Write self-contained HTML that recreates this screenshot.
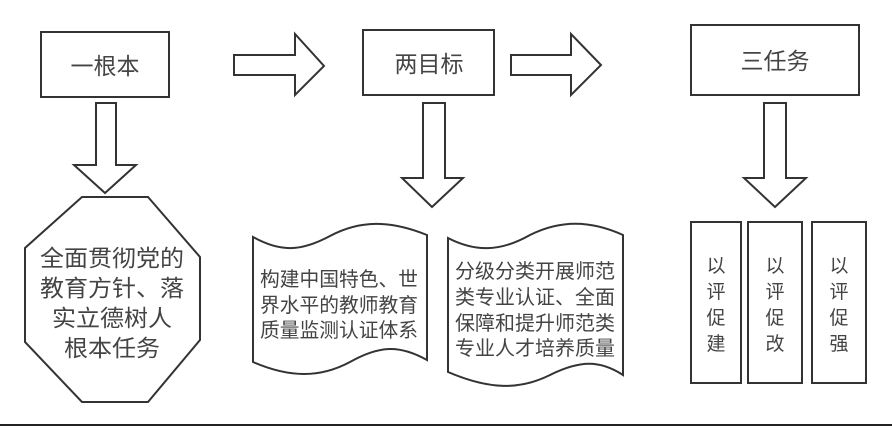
<!DOCTYPE html>
<html><head><meta charset="utf-8"><style>
body{margin:0;background:#fff;}
svg text{font-family:"Liberation Sans","Noto Sans CJK SC",sans-serif;fill:#444;}
</style></head><body>
<svg width="892" height="427" viewBox="0 0 892 427" xmlns="http://www.w3.org/2000/svg">
<g fill="#fff" stroke="#333" stroke-width="2">
<rect x="41" y="32" width="128" height="65"/>
<rect x="363" y="30" width="131" height="65"/>
<rect x="691" y="25" width="168" height="70"/>
<polygon points="234,55 295,55 295,34 324,66 295,95 295,75 234,75"/>
<polygon points="511,55 571,55 571,34 601,65 571,95 571,75 511,75"/>
<polygon points="96,103 116,103 116,165 136,165 105,193 74,165 96,165"/>
<polygon points="423,103 445,103 445,178 463,178 432,207 402,178 423,178"/>
<polygon points="764,103 786,103 786,178 806,178 775,207 744,178 764,178"/>
<polygon points="82,197 148,197 200,257 200,340 148,402 82,402 25,342 25,248"/>
<path d="M253,237 C280,252 300,252 330,236 C360,220 390,220 427,235 L427,360 C400,345 380,345 350,362 C320,378 290,378 253,362 Z"/>
<path d="M448,238 C475,252 500,252 530,235 C560,220 590,220 623,235 L623,375 C600,360 580,360 550,375 C520,390 490,390 448,372 Z"/>
<rect x="691" y="222" width="50" height="161"/>
<rect x="748" y="222" width="54" height="161"/>
<rect x="812" y="222" width="54" height="161"/>
</g>
<line x1="0" y1="425" x2="892" y2="425" stroke="#222" stroke-width="2"/>
<g font-size="23" text-anchor="middle">
<text x="105" y="74">一根本</text>
<text x="429" y="72">两目标</text>
<text x="775" y="69">三任务</text>
</g>
<g font-size="23">
<text x="40" y="266" textLength="144" lengthAdjust="spacingAndGlyphs">全面贯彻党的</text>
<text x="40" y="296" textLength="144" lengthAdjust="spacingAndGlyphs">教育方针、落</text>
<text x="52" y="326" textLength="120" lengthAdjust="spacingAndGlyphs">实立德树人</text>
<text x="64" y="356" textLength="96" lengthAdjust="spacingAndGlyphs">根本任务</text>
</g>
<g font-size="20">
<text x="260" y="286" textLength="158" lengthAdjust="spacingAndGlyphs">构建中国特色、世</text>
<text x="260" y="312" textLength="158" lengthAdjust="spacingAndGlyphs">界水平的教师教育</text>
<text x="260" y="337" textLength="158" lengthAdjust="spacingAndGlyphs">质量监测认证体系</text>
<text x="455" y="278" textLength="160" lengthAdjust="spacingAndGlyphs">分级分类开展师范</text>
<text x="455" y="304" textLength="160" lengthAdjust="spacingAndGlyphs">类专业认证、全面</text>
<text x="455" y="330" textLength="160" lengthAdjust="spacingAndGlyphs">保障和提升师范类</text>
<text x="455" y="355" textLength="160" lengthAdjust="spacingAndGlyphs">专业人才培养质量</text>
</g>
<g font-size="19" text-anchor="middle">
<text x="716" y="272">以</text><text x="716" y="298">评</text><text x="716" y="324">促</text><text x="716" y="350">建</text>
<text x="775" y="272">以</text><text x="775" y="298">评</text><text x="775" y="324">促</text><text x="775" y="350">改</text>
<text x="839" y="272">以</text><text x="839" y="298">评</text><text x="839" y="324">促</text><text x="839" y="350">强</text>
</g>
</svg>
</body></html>
